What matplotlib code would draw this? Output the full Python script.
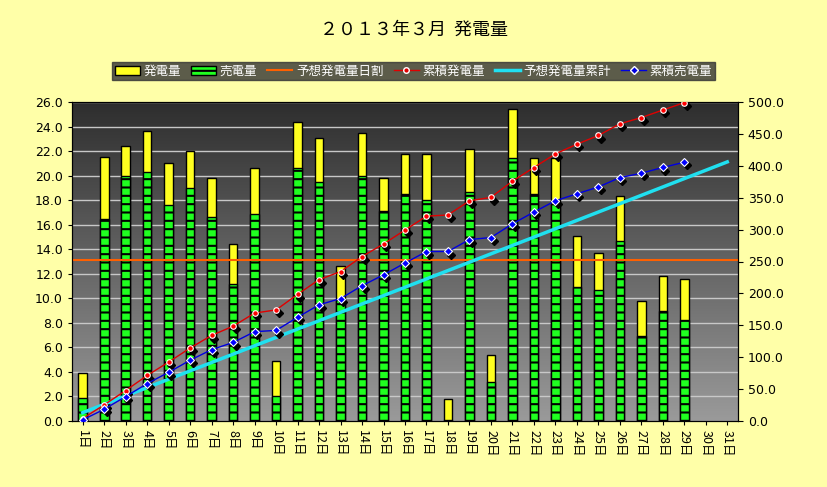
import numpy as np
import matplotlib
matplotlib.use("Agg")
import matplotlib.pyplot as plt
from matplotlib.patches import Patch
from matplotlib.lines import Line2D

plt.rcParams["font.family"] = "Noto Sans CJK JP"
plt.rcParams["hatch.color"] = "white"
plt.rcParams["hatch.linewidth"] = 1.5

days = [f"{i}日" for i in range(1, 32)]
gen = [3.9, 21.5, 22.4, 23.6, 21.0, 22.0, 19.8, 14.4, 20.6, 4.9,
       24.4, 23.1, 12.6, 23.5, 19.8, 21.8, 21.8, 1.8, 22.2, 5.4,
       25.4, 21.4, 21.4, 15.1, 13.7, 18.3, 9.8, 11.8, 11.6]
sold = [1.9, 16.5, 20.0, 20.3, 17.6, 19.0, 16.6, 11.2, 16.9, 2.0,
        20.6, 19.5, 9.9, 20.0, 17.1, 18.5, 18.0, 0.1, 18.7, 3.2,
        21.4, 18.5, 17.7, 10.9, 10.7, 14.7, 6.9, 9.0, 8.2]
pred_daily = 13.1

n = len(gen)
x = np.arange(1, n + 1)
xall = np.arange(1, 32)
cum_gen = np.cumsum(gen)
cum_sold = np.cumsum(sold)
cum_pred = np.cumsum([pred_daily] * 31)

fig = plt.figure(figsize=(8.27, 4.87), dpi=100, facecolor="#FFFFA8")
ax = fig.add_axes([72/827, 1-421/487, (738-72)/827, (421-102)/487])
ax.set_xlim(0.5, 31.5)
ax.set_ylim(0, 26)
grad = np.linspace(0, 1, 256).reshape(-1, 1)
ax.imshow(grad, extent=(0.5, 31.5, 0, 26), aspect="auto", cmap=matplotlib.colors.LinearSegmentedColormap.from_list("g", ["#2e2e2e", "#9a9a9a"]), zorder=0)
for v in np.arange(2, 26.1, 2):
    ax.axhline(v, color="#c8c8c8", lw=1, zorder=1)

w = 0.4
ax.bar(x, gen, width=w, color="#FFFF20", edgecolor="black", lw=1, zorder=2)
ax.bar(x, sold, width=w, color="#20FF20", edgecolor="black", lw=1, hatch="--", zorder=3)
ax.axhline(pred_daily, color="#FF6000", lw=1.5, zorder=4)
ax.set_yticks(np.arange(0, 26.1, 2))
ax.set_yticklabels([f"{v:.1f}" for v in np.arange(0, 26.1, 2)], fontsize=9, fontfamily="DejaVu Sans")
ax.set_xticks(xall)
ax.set_xticklabels(days, rotation=-90, fontsize=9)
ax.tick_params(length=3)

ax2 = ax.twinx()
ax2.set_ylim(0, 500)
ax2.set_yticks(np.arange(0, 501, 50))
ax2.set_yticklabels([f"{v:.1f}" for v in np.arange(0, 501, 50)], fontsize=9, fontfamily="DejaVu Sans")
ax2.plot(xall, cum_pred, color="#20E0F0", lw=2.5, zorder=5)
ax2.plot(x + 0.12, cum_gen - 5, "D", color="black", ms=4, zorder=5)
ax2.plot(x, cum_gen, "-o", color="#E00000", lw=1, ms=4, mfc="#FF0000", mec="white", mew=0.8, zorder=6)
ax2.plot(x + 0.12, cum_sold - 5, "D", color="black", ms=4, zorder=5)
ax2.plot(x, cum_sold, "-D", color="#0000E0", lw=1, ms=4, mfc="#0000FF", mec="white", mew=0.8, zorder=6)
for a in (ax, ax2):
    for s in a.spines.values():
        s.set_color("black")

fig.text(0.5, 1-30/487, "２０１３年３月  発電量", ha="center", va="center", fontsize=13)
handles = [Patch(fc="#FFFF20", ec="black", label="発電量"),
           Patch(fc="#20FF20", ec="black", hatch="--", label="売電量"),
           Line2D([], [], color="#FF6000", lw=1.5, label="予想発電量日割"),
           Line2D([], [], color="#E00000", marker="o", ms=4, mec="white", lw=1, label="累積発電量"),
           Line2D([], [], color="#20E0F0", lw=2.5, label="予想発電量累計"),
           Line2D([], [], color="#0000E0", marker="D", ms=4, mec="white", lw=1, label="累積売電量")]
leg = fig.legend(handles=handles, loc="center", bbox_to_anchor=(0.5, 1-71/487), ncol=6,
                 frameon=True, fontsize=9, handlelength=2, columnspacing=0.8, handletextpad=0.3,
                 borderpad=0.2, fancybox=False)
leg.get_frame().set_facecolor("#333333")
leg.get_frame().set_edgecolor("#333333")
for t in leg.get_texts():
    t.set_color("white")
fig.savefig("out.png", dpi=100, facecolor=fig.get_facecolor())
